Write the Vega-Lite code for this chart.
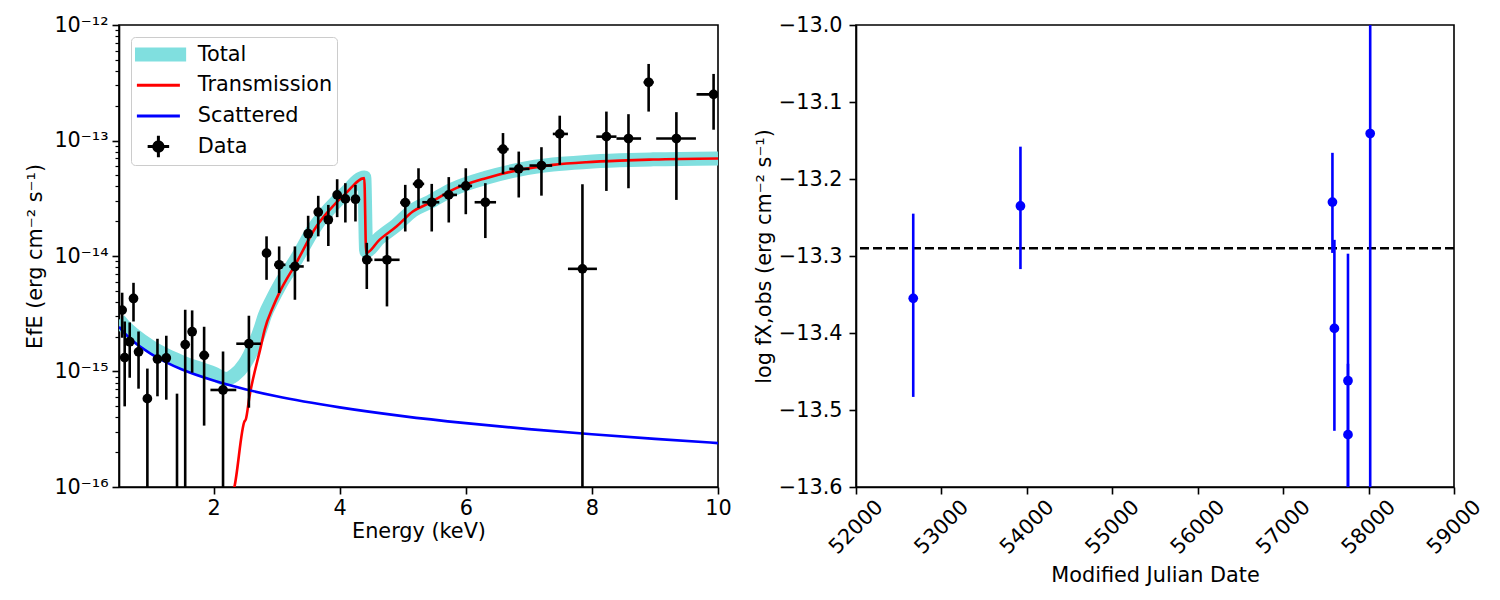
{
  "$schema": "https://vega.github.io/schema/vega-lite/v6.json",
  "autosize": {"type": "pad"},
  "padding": {"left": 23, "top": 13, "right": 5, "bottom": 5},
  "bounds": "flush",
  "spacing": 138,
  "background": "white",
  "datasets": {
    "spec": [
      {"E": 0.55, "f": 3.40e-15, "lo": 1.96e-15, "hi": 4.81e-15, "xlo": 0.53, "xhi": 0.57},
      {"E": 0.59, "f": 1.32e-15, "lo": 4.99e-16, "hi": 2.71e-15, "xlo": 0.57, "xhi": 0.61},
      {"E": 0.67, "f": 1.81e-15, "lo": 8.83e-16, "hi": 2.66e-15, "xlo": 0.64, "xhi": 0.70},
      {"E": 0.73, "f": 4.29e-15, "lo": 2.71e-15, "hi": 5.86e-15, "xlo": 0.70, "xhi": 0.76},
      {"E": 0.81, "f": 1.48e-15, "lo": 7.1e-16, "hi": 2.22e-15, "xlo": 0.77, "xhi": 0.85},
      {"E": 0.95, "f": 5.82e-16, "lo": 1e-17, "hi": 1.06e-15, "xlo": 0.90, "xhi": 1.00},
      {"E": 1.11, "f": 1.28e-15, "lo": 6.1e-16, "hi": 1.92e-15, "xlo": 1.05, "xhi": 1.17},
      {"E": 1.25, "f": 1.31e-15, "lo": 5.7e-16, "hi": 2.04e-15, "xlo": 1.19, "xhi": 1.31},
      {"E": 1.42, "f": 5e-17, "lo": 1e-17, "hi": 6.43e-16, "xlo": 1.36, "xhi": 1.48},
      {"E": 1.55, "f": 1.71e-15, "lo": 1e-17, "hi": 3.43e-15, "xlo": 1.49, "xhi": 1.61},
      {"E": 1.66, "f": 2.21e-15, "lo": 9.77e-16, "hi": 3.38e-15, "xlo": 1.61, "xhi": 1.71},
      {"E": 1.85, "f": 1.38e-15, "lo": 3.4e-16, "hi": 2.44e-15, "xlo": 1.78, "xhi": 1.93},
      {"E": 2.15, "f": 6.92e-16, "lo": 1e-17, "hi": 1.49e-15, "xlo": 1.95, "xhi": 2.36},
      {"E": 2.56, "f": 1.74e-15, "lo": 4.86e-16, "hi": 3.04e-15, "xlo": 2.36, "xhi": 2.75},
      {"E": 2.84, "f": 1.06e-14, "lo": 6.22e-15, "hi": 1.48e-14, "xlo": 2.78, "xhi": 2.90},
      {"E": 3.04, "f": 8.39e-15, "lo": 4.78e-15, "hi": 1.21e-14, "xlo": 2.96, "xhi": 3.14},
      {"E": 3.29, "f": 8.12e-15, "lo": 4.18e-15, "hi": 1.21e-14, "xlo": 3.20, "xhi": 3.43},
      {"E": 3.50, "f": 1.56e-14, "lo": 8.95e-15, "hi": 2.23e-14, "xlo": 3.44, "xhi": 3.56},
      {"E": 3.66, "f": 2.40e-14, "lo": 1.48e-14, "hi": 3.32e-14, "xlo": 3.60, "xhi": 3.72},
      {"E": 3.82, "f": 2.06e-14, "lo": 1.22e-14, "hi": 2.77e-14, "xlo": 3.76, "xhi": 3.88},
      {"E": 3.96, "f": 3.38e-14, "lo": 2.17e-14, "hi": 4.62e-14, "xlo": 3.90, "xhi": 4.02},
      {"E": 4.09, "f": 3.12e-14, "lo": 1.95e-14, "hi": 4.27e-14, "xlo": 4.03, "xhi": 4.15},
      {"E": 4.25, "f": 3.10e-14, "lo": 1.99e-14, "hi": 4.13e-14, "xlo": 4.18, "xhi": 4.32},
      {"E": 4.43, "f": 9.27e-15, "lo": 5.18e-15, "hi": 1.30e-14, "xlo": 4.36, "xhi": 4.52},
      {"E": 4.75, "f": 9.27e-15, "lo": 3.66e-15, "hi": 1.48e-14, "xlo": 4.55, "xhi": 4.95},
      {"E": 5.04, "f": 2.90e-14, "lo": 1.63e-14, "hi": 4.13e-14, "xlo": 4.96, "xhi": 5.12},
      {"E": 5.25, "f": 4.21e-14, "lo": 2.60e-14, "hi": 5.75e-14, "xlo": 5.16, "xhi": 5.34},
      {"E": 5.46, "f": 2.92e-14, "lo": 1.63e-14, "hi": 4.21e-14, "xlo": 5.31, "xhi": 5.58},
      {"E": 5.73, "f": 3.38e-14, "lo": 1.95e-14, "hi": 4.82e-14, "xlo": 5.63, "xhi": 5.86},
      {"E": 6.00, "f": 4.04e-14, "lo": 2.30e-14, "hi": 5.75e-14, "xlo": 5.88, "xhi": 6.10},
      {"E": 6.31, "f": 2.92e-14, "lo": 1.43e-14, "hi": 4.27e-14, "xlo": 6.14, "xhi": 6.48},
      {"E": 6.59, "f": 8.41e-14, "lo": 5.14e-14, "hi": 1.16e-13, "xlo": 6.50, "xhi": 6.68},
      {"E": 6.84, "f": 5.68e-14, "lo": 3.21e-14, "hi": 8.02e-14, "xlo": 6.69, "xhi": 7.01},
      {"E": 7.20, "f": 6.07e-14, "lo": 3.33e-14, "hi": 8.75e-14, "xlo": 7.01, "xhi": 7.37},
      {"E": 7.49, "f": 1.14e-13, "lo": 6.15e-14, "hi": 1.64e-13, "xlo": 7.38, "xhi": 7.62},
      {"E": 7.85, "f": 7.74e-15, "lo": 1e-17, "hi": 4.19e-14, "xlo": 7.62, "xhi": 8.08},
      {"E": 8.23, "f": 1.08e-13, "lo": 3.66e-14, "hi": 1.78e-13, "xlo": 8.07, "xhi": 8.39},
      {"E": 8.58, "f": 1.04e-13, "lo": 3.86e-14, "hi": 1.69e-13, "xlo": 8.39, "xhi": 8.78},
      {"E": 8.90, "f": 3.19e-13, "lo": 1.78e-13, "hi": 4.60e-13, "xlo": 8.82, "xhi": 8.98},
      {"E": 9.34, "f": 1.04e-13, "lo": 3.06e-14, "hi": 1.76e-13, "xlo": 9.02, "xhi": 9.65},
      {"E": 9.93, "f": 2.51e-13, "lo": 1.24e-13, "hi": 3.77e-13, "xlo": 9.66, "xhi": 10.3}
    ],
    "curves": [
      {"series": "Total", "E": 0.5, "f": 2.8e-15},
      {"series": "Total", "E": 0.6, "f": 2.42e-15},
      {"series": "Total", "E": 0.75, "f": 2.05e-15},
      {"series": "Total", "E": 1.0, "f": 1.64e-15},
      {"series": "Total", "E": 1.25, "f": 1.38e-15},
      {"series": "Total", "E": 1.5, "f": 1.2e-15},
      {"series": "Total", "E": 2.0, "f": 9.6e-16},
      {"series": "Total", "E": 2.2, "f": 8.6e-16},
      {"series": "Total", "E": 2.33, "f": 9.3e-16},
      {"series": "Total", "E": 2.49, "f": 1.16e-15},
      {"series": "Total", "E": 2.57, "f": 1.38e-15},
      {"series": "Total", "E": 2.75, "f": 2.39e-15},
      {"series": "Total", "E": 2.81, "f": 3.03e-15},
      {"series": "Total", "E": 2.94, "f": 4.3e-15},
      {"series": "Total", "E": 3.04, "f": 5.47e-15},
      {"series": "Total", "E": 3.31, "f": 9.35e-15},
      {"series": "Total", "E": 3.63, "f": 1.86e-14},
      {"series": "Total", "E": 3.84, "f": 2.57e-14},
      {"series": "Total", "E": 4.10, "f": 3.56e-14},
      {"series": "Total", "E": 4.39, "f": 4.78e-14},
      {"series": "Total", "E": 4.42, "f": 1.11e-14},
      {"series": "Total", "E": 4.63, "f": 1.43e-14},
      {"series": "Total", "E": 4.90, "f": 1.85e-14},
      {"series": "Total", "E": 5.16, "f": 2.48e-14},
      {"series": "Total", "E": 5.42, "f": 2.92e-14},
      {"series": "Total", "E": 5.79, "f": 3.78e-14},
      {"series": "Total", "E": 6.32, "f": 4.76e-14},
      {"series": "Total", "E": 6.85, "f": 5.6e-14},
      {"series": "Total", "E": 7.38, "f": 6.19e-14},
      {"series": "Total", "E": 7.91, "f": 6.52e-14},
      {"series": "Total", "E": 8.44, "f": 6.73e-14},
      {"series": "Total", "E": 8.97, "f": 6.87e-14},
      {"series": "Total", "E": 10.0, "f": 7.0e-14},
      {"series": "Transmission", "E": 2.28, "f": 8e-17},
      {"series": "Transmission", "E": 2.33, "f": 1.0e-16},
      {"series": "Transmission", "E": 2.49, "f": 3.70e-16},
      {"series": "Transmission", "E": 2.51, "f": 3.83e-16},
      {"series": "Transmission", "E": 2.57, "f": 6.10e-16},
      {"series": "Transmission", "E": 2.75, "f": 1.65e-15},
      {"series": "Transmission", "E": 2.81, "f": 2.30e-15},
      {"series": "Transmission", "E": 2.94, "f": 3.6e-15},
      {"series": "Transmission", "E": 3.04, "f": 4.77e-15},
      {"series": "Transmission", "E": 3.31, "f": 8.69e-15},
      {"series": "Transmission", "E": 3.63, "f": 1.80e-14},
      {"series": "Transmission", "E": 3.84, "f": 2.51e-14},
      {"series": "Transmission", "E": 4.10, "f": 3.50e-14},
      {"series": "Transmission", "E": 4.39, "f": 4.72e-14},
      {"series": "Transmission", "E": 4.42, "f": 1.06e-14},
      {"series": "Transmission", "E": 4.63, "f": 1.38e-14},
      {"series": "Transmission", "E": 4.90, "f": 1.80e-14},
      {"series": "Transmission", "E": 5.16, "f": 2.43e-14},
      {"series": "Transmission", "E": 5.42, "f": 2.87e-14},
      {"series": "Transmission", "E": 5.79, "f": 3.74e-14},
      {"series": "Transmission", "E": 6.32, "f": 4.72e-14},
      {"series": "Transmission", "E": 6.85, "f": 5.57e-14},
      {"series": "Transmission", "E": 7.38, "f": 6.15e-14},
      {"series": "Transmission", "E": 7.91, "f": 6.49e-14},
      {"series": "Transmission", "E": 8.44, "f": 6.70e-14},
      {"series": "Transmission", "E": 8.97, "f": 6.84e-14},
      {"series": "Transmission", "E": 10.0, "f": 6.98e-14},
      {"series": "Scattered", "E": 0.5, "f": 2.44e-15},
      {"series": "Scattered", "E": 0.6, "f": 2.12e-15},
      {"series": "Scattered", "E": 0.75, "f": 1.78e-15},
      {"series": "Scattered", "E": 1.0, "f": 1.43e-15},
      {"series": "Scattered", "E": 1.25, "f": 1.20e-15},
      {"series": "Scattered", "E": 1.5, "f": 1.04e-15},
      {"series": "Scattered", "E": 2.0, "f": 8.35e-16},
      {"series": "Scattered", "E": 2.5, "f": 7.03e-16},
      {"series": "Scattered", "E": 3.0, "f": 6.10e-16},
      {"series": "Scattered", "E": 4.0, "f": 4.89e-16},
      {"series": "Scattered", "E": 5.0, "f": 4.11e-16},
      {"series": "Scattered", "E": 6.0, "f": 3.57e-16},
      {"series": "Scattered", "E": 7.0, "f": 3.17e-16},
      {"series": "Scattered", "E": 8.0, "f": 2.86e-16},
      {"series": "Scattered", "E": 9.0, "f": 2.61e-16},
      {"series": "Scattered", "E": 10.0, "f": 2.40e-16}
    ],
    "lc": [
      {"mjd": 52670, "flux": -13.355, "lo": -13.483, "hi": -13.245},
      {"mjd": 53925, "flux": -13.235, "lo": -13.317, "hi": -13.158},
      {"mjd": 57577, "flux": -13.230, "lo": -13.296, "hi": -13.166},
      {"mjd": 57600, "flux": -13.394, "lo": -13.527, "hi": -13.279},
      {"mjd": 57759, "flux": -13.462, "lo": -13.627, "hi": -13.297},
      {"mjd": 57759, "flux": -13.532, "lo": -13.650, "hi": -13.440},
      {"mjd": 58019, "flux": -13.141, "lo": -13.700, "hi": -12.900}
    ],
    "mean": [{"level": -13.29}]
  },
  "config": {
    "font": "DejaVu Sans",
    "view": {"stroke": "black", "strokeWidth": 1.6},
    "axis": {
      "grid": false, "domainColor": "black", "domainWidth": 1.6,
      "tickColor": "black", "tickWidth": 1.6, "tickSize": 7,
      "labelFont": "DejaVu Sans", "labelFontSize": 20.8, "labelColor": "black",
      "titleFont": "DejaVu Sans", "titleFontSize": 20.8, "titleFontWeight": "normal", "titleColor": "black",
      "labelFlush": false, "labelOverlap": false
    }
  },
  "hconcat": [
    {
      "width": 599,
      "height": 462,
      "layer": [
        {
          "data": {"name": "curves"},
          "transform": [{"filter": "datum.series === 'Total'"}],
          "mark": {"type": "line", "strokeWidth": 14, "clip": true, "interpolate": "monotone"},
          "encoding": {
            "x": {"field": "E", "type": "quantitative", "title": "Energy (keV)",
              "scale": {"domain": [0.5, 10], "nice": false, "zero": false},
              "axis": {"values": [2, 4, 6, 8, 10], "format": "d", "labelPadding": 4, "titleY": 50, "titleBaseline": "alphabetic"}},
            "y": {"field": "f", "type": "quantitative", "title": "EfE (erg cm⁻² s⁻¹)",
              "scale": {"type": "log", "domain": [1e-16, 1e-12], "nice": false},
              "axis": {
                "values": [1e-16, 2e-16, 3e-16, 4e-16, 5e-16, 6e-16, 7e-16, 8e-16, 9e-16,
                           1e-15, 2e-15, 3e-15, 4e-15, 5e-15, 6e-15, 7e-15, 8e-15, 9e-15,
                           1e-14, 2e-14, 3e-14, 4e-14, 5e-14, 6e-14, 7e-14, 8e-14, 9e-14,
                           1e-13, 2e-13, 3e-13, 4e-13, 5e-13, 6e-13, 7e-13, 8e-13, 9e-13, 1e-12],
                "labelExpr": "datum.value === 1e-12 ? '10⁻¹²' : datum.value === 1e-13 ? '10⁻¹³' : datum.value === 1e-14 ? '10⁻¹⁴' : datum.value === 1e-15 ? '10⁻¹⁵' : datum.value === 1e-16 ? '10⁻¹⁶' : ''",
                "tickSize": {"condition": {"test": "indexof([1e-16, 1e-15, 1e-14, 1e-13, 1e-12], datum.value) >= 0", "value": 7}, "value": 4},
                "tickWidth": {"condition": {"test": "indexof([1e-16, 1e-15, 1e-14, 1e-13, 1e-12], datum.value) >= 0", "value": 1.6}, "value": 1.2},
                "labelPadding": 4,
                "titleX": -84, "titleY": 231, "titleAngle": -90, "titleAlign": "center", "titleBaseline": "middle"
              }},
            "color": {"field": "series", "type": "nominal",
              "scale": {"domain": ["Total", "Transmission", "Scattered", "Data"], "range": ["#80dfdf", "#ff0000", "#0000ff", "#000000"]},
              "legend": {
                "title": null, "orient": "top-left", "offset": 12,
                "symbolType": "stroke", "symbolSize": 1849, "symbolStrokeWidth": 3,
                "symbolOffset": 13, "labelOffset": 29,
                "labelFont": "DejaVu Sans", "labelFontSize": 20.8, "labelColor": "black",
                "padding": 4, "rowPadding": 3.7, "clipHeight": 27,
                "strokeColor": "#cccccc", "fillColor": "rgba(255,255,255,0.8)", "cornerRadius": 4,
                "encode": {
                  "symbols": {"update": {
                    "shape": {"signal": "datum.value === 'Data' ? 'M-0.5,0L0.5,0M0,-0.5L0,0.5M-0.22,0A0.22,0.22,0,1,0,0.22,0A0.22,0.22,0,1,0,-0.22,0Z' : datum.value === 'Total' ? 'M-1.29,-0.33L1.29,-0.33L1.29,0.33L-1.29,0.33Z' : 'stroke'"},
                    "strokeWidth": {"signal": "datum.value === 'Total' ? 0 : 3"},
                    "fill": {"signal": "datum.value === 'Total' ? '#80dfdf' : datum.value === 'Data' ? 'black' : 'transparent'"},
                    "fillOpacity": {"value": 1},
                    "opacity": {"value": 1}
                  }}
                }
              }}
          }
        },
        {
          "data": {"name": "curves"},
          "transform": [{"filter": "datum.series !== 'Total'"}],
          "mark": {"type": "line", "strokeWidth": 2.6, "clip": true, "interpolate": "monotone"},
          "encoding": {
            "x": {"field": "E", "type": "quantitative", "title": "Energy (keV)"},
            "y": {"field": "f", "type": "quantitative", "title": "EfE (erg cm⁻² s⁻¹)"},
            "color": {"field": "series", "type": "nominal"}
          }
        },
        {
          "data": {"name": "spec"},
          "mark": {"type": "rule", "color": "black", "strokeWidth": 2.6, "clip": true},
          "encoding": {
            "x": {"field": "E", "type": "quantitative", "title": "Energy (keV)"},
            "y": {"field": "lo", "type": "quantitative", "title": "EfE (erg cm⁻² s⁻¹)"},
            "y2": {"field": "hi"}
          }
        },
        {
          "data": {"name": "spec"},
          "mark": {"type": "rule", "color": "black", "strokeWidth": 2.6, "clip": true},
          "encoding": {
            "x": {"field": "xlo", "type": "quantitative", "title": "Energy (keV)"},
            "x2": {"field": "xhi"},
            "y": {"field": "f", "type": "quantitative", "title": "EfE (erg cm⁻² s⁻¹)"}
          }
        },
        {
          "data": {"name": "spec"},
          "mark": {"type": "circle", "color": "black", "size": 95, "opacity": 1, "clip": true},
          "encoding": {
            "x": {"field": "E", "type": "quantitative", "title": "Energy (keV)"},
            "y": {"field": "f", "type": "quantitative", "title": "EfE (erg cm⁻² s⁻¹)"}
          }
        }
      ]
    },
    {
      "width": 598,
      "height": 462,
      "layer": [
        {
          "data": {"name": "mean"},
          "mark": {"type": "rule", "color": "black", "strokeWidth": 2.4, "strokeDash": [9, 4]},
          "encoding": {
            "y": {"field": "level", "type": "quantitative", "title": "log fX,obs (erg cm⁻² s⁻¹)",
              "scale": {"domain": [-13.6, -13.0], "nice": false, "zero": false},
              "axis": {"values": [-13.6, -13.5, -13.4, -13.3, -13.2, -13.1, -13.0], "format": ".1f", "labelPadding": 7,
                "titleX": -92, "titleY": 231, "titleAngle": -90, "titleAlign": "center", "titleBaseline": "middle"}}
          }
        },
        {
          "data": {"name": "lc"},
          "mark": {"type": "rule", "color": "#0000ff", "strokeWidth": 2.6, "clip": true},
          "encoding": {
            "x": {"field": "mjd", "type": "quantitative", "title": "Modified Julian Date",
              "scale": {"domain": [52000, 59000], "nice": false, "zero": false},
              "axis": {"values": [52000, 53000, 54000, 55000, 56000, 57000, 58000, 59000], "format": "d",
                "labelAngle": -45, "labelAlign": "center", "labelBaseline": "middle", "labelPadding": 33,
                "titleY": 94, "titleBaseline": "alphabetic"}},
            "y": {"field": "lo", "type": "quantitative", "title": "log fX,obs (erg cm⁻² s⁻¹)"},
            "y2": {"field": "hi"}
          }
        },
        {
          "data": {"name": "lc"},
          "mark": {"type": "circle", "color": "#0000ff", "size": 95, "opacity": 1, "clip": true},
          "encoding": {
            "x": {"field": "mjd", "type": "quantitative", "title": "Modified Julian Date"},
            "y": {"field": "flux", "type": "quantitative", "title": "log fX,obs (erg cm⁻² s⁻¹)"}
          }
        }
      ]
    }
  ]
}
